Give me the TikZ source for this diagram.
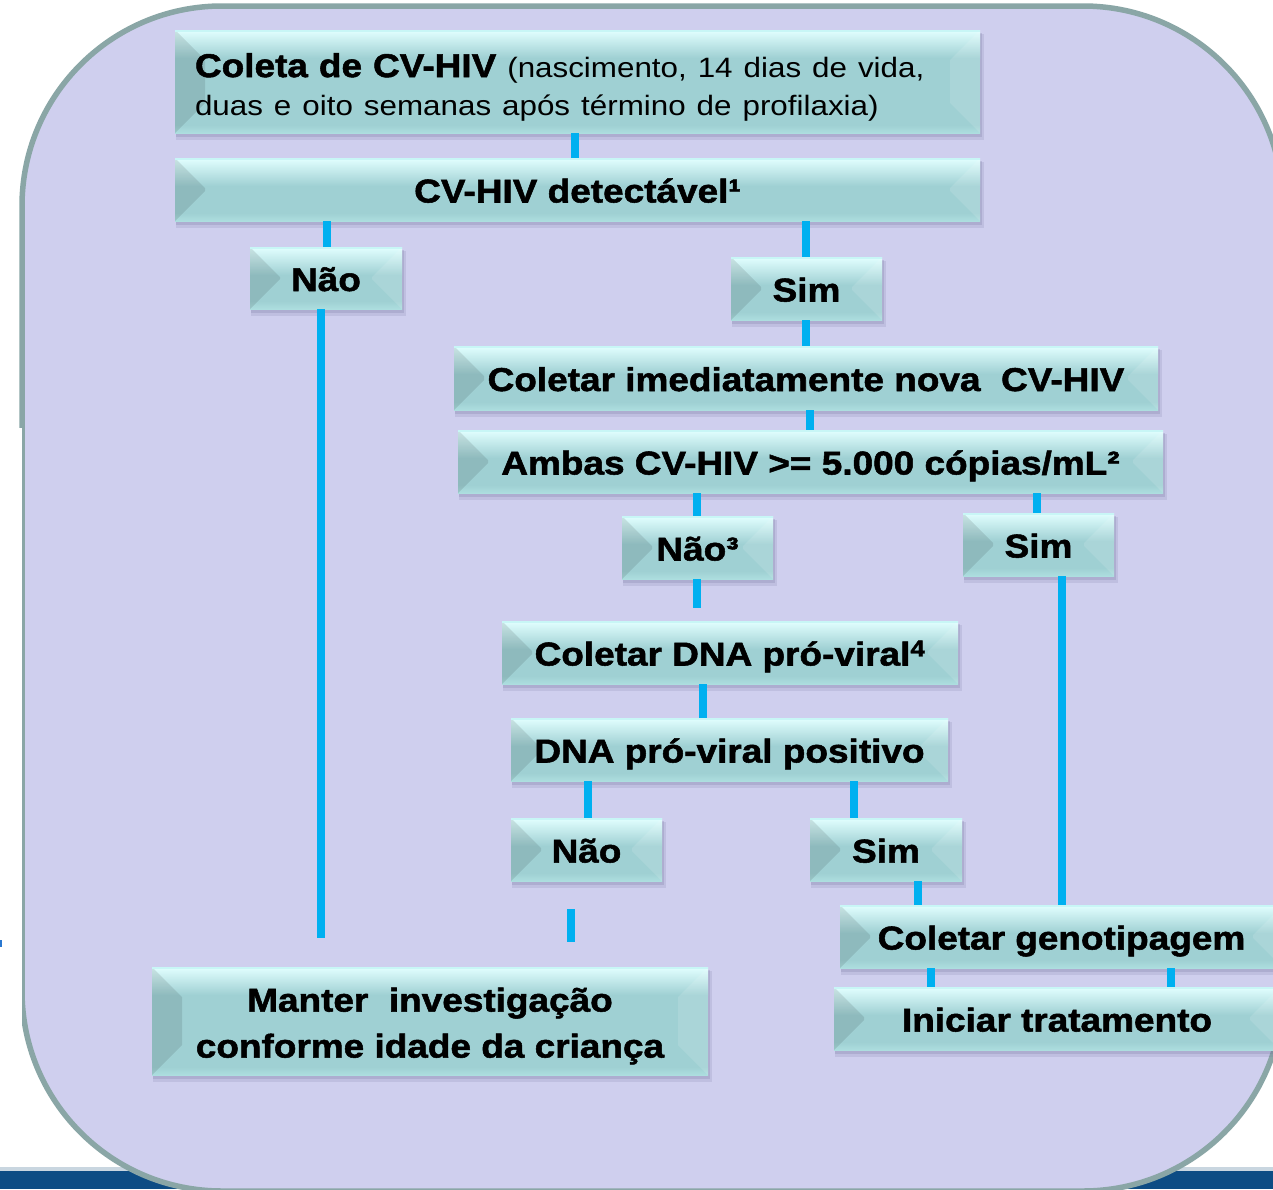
\documentclass[tikz,border=0pt]{standalone}
\usepackage{fontspec}
\setmainfont{Liberation Sans}[FakeStretch=1.12, BoldFeatures={FakeBold=1.6}]
\definecolor{lavc}{HTML}{CFCFEE}
\definecolor{borderc}{HTML}{8AA6A6}
\definecolor{connc}{HTML}{00B0F0}
\definecolor{basec}{HTML}{9FD0D3}
\definecolor{topc}{HTML}{E2FFFF}
\definecolor{botc}{HTML}{ADDEDF}
\definecolor{edgec}{HTML}{C8F6F6}
\definecolor{shadowc}{HTML}{6E6E9A}
\definecolor{bandc}{HTML}{0D4C84}
\definecolor{bandlight}{HTML}{C9D6E0}
\definecolor{tickc}{HTML}{2A78D0}
\tikzset{
  conn/.style={line width=7.5pt, draw=connc},
  boxnode/.style={rectangle, inner sep=0pt, align=center,
    font=\bfseries\fontsize{33}{46}\selectfont, text height=32pt, text depth=6pt},
  multiline/.style={text height=, text depth=},
}
\newcommand\bevbox[7][]{%
  \pgfmathsetmacro\bw{#5-#3}%
  \pgfmathsetmacro\bh{#6-#4}%
  \fill[shadowc,opacity=.16] (#3+1,#4+4) rectangle (#5+4,#6+7);
  \fill[shadowc,opacity=.22] (#3+1,#4+3) rectangle (#5+2,#6+4);
  \fill[basec] (#3,#4) rectangle (#5,#6);
  \shade[top color=topc, bottom color=basec] (#3,#4) rectangle (#5,#4+28);
  \shade[top color=basec, bottom color=botc] (#3,#6-8) rectangle (#5,#6);
  \fill[black,opacity=.1] (#3,#4) -- (#3+30,#4+30) -- (#3+30,#6-30) -- (#3,#6) -- cycle;
  \fill[white,opacity=.12] (#5,#4) -- (#5-30,#4+30) -- (#5-30,#6-30) -- (#5,#6) -- cycle;
  \draw[edgec,line width=1.5pt] (#3,#4+.75) -- (#5,#4+.75);
  \node[boxnode,minimum width=\bw pt,minimum height=\bh pt,#1] (#2) at ({(#3+#5)/2},{(#4+#6)/2}) {#7};
}
\begin{document}
\begin{tikzpicture}[x=1pt,y=-1pt]
\useasboundingbox (0,0) rectangle (1273,1189);
\clip (0,0) rectangle (1273,1189);
\fill[white] (0,0) rectangle (1273,1189);
% bottom band
\fill[bandlight] (0,1167) rectangle (1273,1171);
\fill[bandc] (0,1171) rectangle (1273,1189);
% large rounded panel
\draw[line width=5.5pt, draw=borderc, fill=lavc, rounded corners=200pt] (22,6) rectangle (1283,1191);
\fill[white] (0,428) rectangle (22,1166);
\fill[tickc] (0,940) rectangle (1.5,947);
% boxes
\bevbox[multiline, text width=765pt, align=left, font=\bfseries\fontsize{33}{38}\selectfont]{b1}{175}{30}{980}{133}{\rule{0pt}{35pt}Coleta de CV-HIV {\mdseries\fontsize{28}{38}\selectfont (nascimento, 14 dias de vida,\\duas e oito semanas após término de profilaxia)}}
\bevbox{b2}{175}{158}{980}{221}{CV-HIV detectável¹}
\bevbox{b3}{250}{247}{402}{309}{Não}
\bevbox{b4}{731}{257}{882}{320}{Sim}
\bevbox{b5}{454}{346}{1158}{410}{Coletar imediatamente nova\ \ CV-HIV}
\bevbox{b6}{458}{430}{1163}{493}{Ambas CV-HIV >= 5.000 cópias/mL²}
\bevbox{b7}{622}{516}{773}{579}{Não³}
\bevbox{b8}{963}{513}{1114}{576}{Sim}
\bevbox{b9}{502}{621}{958}{684}{Coletar DNA pró-viral\textsuperscript{4}}
\bevbox{b10}{511}{718}{948}{781}{DNA pró-viral positivo}
\bevbox{b11}{511}{818}{662}{881}{Não}
\bevbox{b12}{810}{818}{962}{881}{Sim}
\bevbox{b13}{840}{905}{1283}{968}{Coletar genotipagem}
\bevbox{b14}{834}{987}{1280}{1050}{Iniciar tratamento}
\bevbox[multiline]{b15}{152}{967}{708}{1075}{\rule{0pt}{34pt}Manter\ \ investigação\\conforme idade da criança}
% x positions of connectors
\foreach \n/\v in {a/575,b/327,c/806,e/810,f/697,g/1037,h/1062,i/703,j/588,k/854,l/918,m/931,n/1171}
  \coordinate (x\n) at (\v,0);
\coordinate (e1) at (321,938);
\coordinate (e2) at (697,608);
\coordinate (e3) at (571,909);
\coordinate (e4) at (571,942);
% connectors
\draw[conn] (b1.south -| xa) -- (b2.north -| xa);
\draw[conn] (b2.south -| xb) -- (b3.north -| xb);
\draw[conn] (b2.south -| xc) -- (b4.north -| xc);
\draw[conn] (b3.south -| e1) -- (e1);
\draw[conn] (b4.south -| xc) -- (b5.north -| xc);
\draw[conn] (b5.south -| xe) -- (b6.north -| xe);
\draw[conn] (b6.south -| xf) -- (b7.north -| xf);
\draw[conn] (b6.south -| xg) -- (b8.north -| xg);
\draw[conn] (b7.south -| e2) -- (e2);
\draw[conn] (b8.south -| xh) -- (b13.north -| xh);
\draw[conn] (b9.south -| xi) -- (b10.north -| xi);
\draw[conn] (b10.south -| xj) -- (b11.north -| xj);
\draw[conn] (b10.south -| xk) -- (b12.north -| xk);
\draw[conn] (e3) -- (e4);
\draw[conn] (b12.south -| xl) -- (b13.north -| xl);
\draw[conn] (b13.south -| xm) -- (b14.north -| xm);
\draw[conn] (b13.south -| xn) -- (b14.north -| xn);
\end{tikzpicture}
\end{document}
